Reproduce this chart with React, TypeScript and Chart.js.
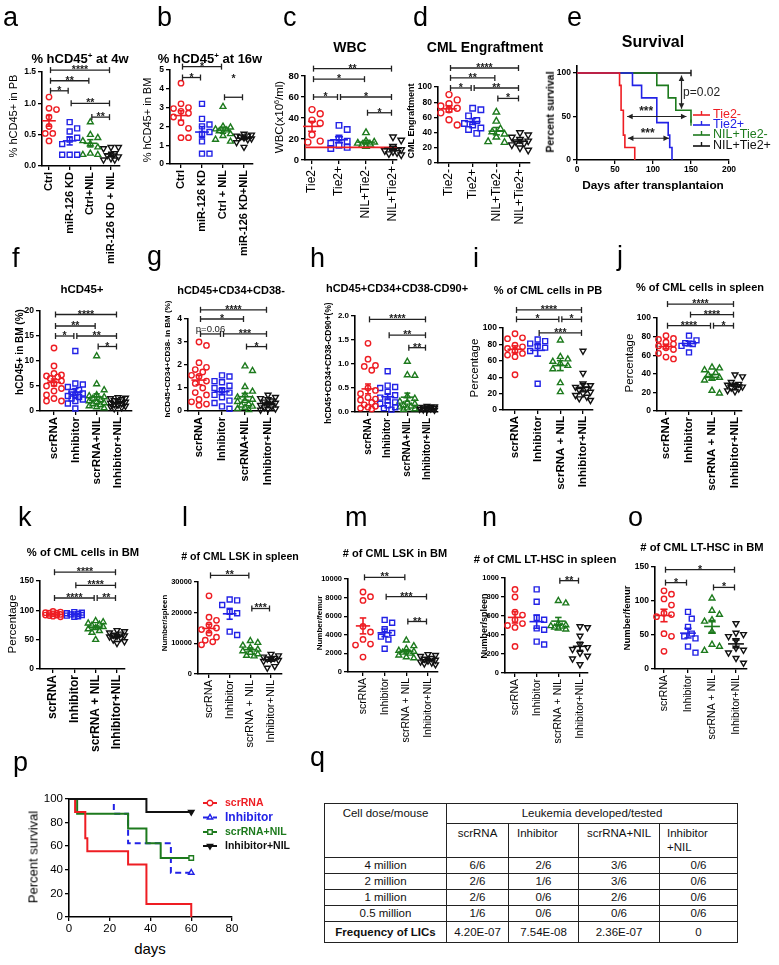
import React, { useEffect, useRef } from 'react';
import { Chart, registerables } from 'chart.js';

Chart.register(...registerables);
const FONT = "'Liberation Sans', Arial, Helvetica, sans-serif";
Chart.defaults.font.family = FONT;
Chart.defaults.color = '#000';

const RED = '#ee1d23';
const BLUE = '#2222e6';
const GREEN = '#1d7a1d';
const BLACK = '#111111';
const GROUP_COLORS = [RED, BLUE, GREEN, BLACK];
const GROUP_STYLES = ['circle', 'rect', 'triangle', 'triangle'];
const GROUP_ROT = [0, 0, 0, 180];

type Bracket = [number, number, number, string, number?];

// ---------------- DATA ----------------
// a
const aCats = ['Ctrl', 'miR-126 KD', 'Ctrl+NIL', 'miR-126 KD + NIL'];
const aCtrl = [1.1, 0.92, 0.9, 0.78, 0.63, 0.52, 0.52, 0.4];
const aKD = [0.7, 0.6, 0.55, 0.45, 0.42, 0.35, 0.18, 0.18, 0.18];
const aNIL = [0.7, 0.5, 0.45, 0.4, 0.35, 0.3, 0.2, 0.18, 0.18];
const aKDNIL = [0.3, 0.3, 0.28, 0.2, 0.17, 0.15, 0.12, 0.1, 0.1];
const aBrackets: Bracket[] = [[0, 3, 1.53, '****'], [0, 2, 1.36, '**'], [0, 1, 1.2, '*'], [1, 3, 1.0, '**'], [2, 3, 0.78, '**']];
// b
const bCats = ['Ctrl', 'miR-126 KD', 'Ctrl + NIL', 'miR-126 KD+NIL'];
const bCtrl = [4.3, 3.2, 3.0, 2.95, 2.8, 2.7, 2.5, 2.2, 1.9, 1.4, 1.4];
const bKD = [3.2, 2.4, 2.1, 2.0, 1.7, 1.6, 1.2, 0.55, 0.55];
const bNIL = [3.05, 2.0, 1.95, 1.85, 1.8, 1.75, 1.6, 1.5, 1.3, 1.2];
const bKDNIL = [1.6, 1.55, 1.5, 1.5, 1.45, 1.4, 1.35, 1.3, 1.15, 0.9];
const bBrackets: Bracket[] = [[0, 2, 5.18, '*'], [0, 1, 4.6, '*'], [2, 3, 3.55, '*', 4.5]];
// c
const cdCats = ['Tie2-', 'Tie2+', 'NIL+Tie2-', 'NIL+Tie2+'];
const cT1 = [48, 44, 38, 35, 24, 18, 17];
const cT2 = [33, 29, 21, 18, 16, 14, 12, 11];
const cN1 = [26, 18, 17, 16, 15, 14, 13];
const cN2 = [22, 19, 13, 10, 9, 8, 7, 6, 5];
const cBrackets: Bracket[] = [[0, 3, 87, '**'], [0, 2, 77, '*'], [0, 1, 60, '*'], [1, 3, 60, '*'], [2, 3, 45, '*']];
const cRefLine = 12;
// d
const dT1 = [90, 83, 78, 75, 72, 70, 66, 57, 50];
const dT2 = [72, 70, 62, 56, 52, 50, 46, 44, 39];
const dN1 = [67, 55, 45, 41, 38, 34, 28, 27];
const dN2 = [40, 37, 34, 31, 29, 28, 26, 24, 20, 17];
const dBrackets: Bracket[] = [[0, 3, 125, '****'], [0, 2, 112, '**'], [0, 1, 98.7, '*'], [1, 3, 98.7, '**'], [2, 3, 85, '*']];
// e
const eRedT = [0, 56, 58, 61, 63, 76];
const eRedS = [100, 85.7, 57.1, 28.6, 14.3, 0];
const eBlueT = [0, 73, 85, 105, 120, 122, 125];
const eBlueS = [100, 85.7, 71.4, 42.9, 28.6, 14.3, 0];
const eGreenT = [0, 105, 120, 130, 150];
const eGreenS = [100, 85.7, 71.4, 57.1, 42.9];
const eBlackT = [0, 150];
const eBlackS = [100, 100];
const eLabels = ['Tie2-', 'Tie2+', 'NIL+Tie2-', 'NIL+Tie2+'];
// f-o categories
const sCats = ['scrRNA', 'Inhibitor', 'scrRNA+NIL', 'Inhibitor+NIL'];
const sCats2 = ['scrRNA', 'Inhibitor', 'scrRNA + NIL', 'Inhibitor+NIL'];
// f
const fScr = [12.6, 9.0, 7.5, 7.2, 7.0, 6.8, 6.5, 6.0, 5.5, 5.0, 4.5, 4.0, 3.2, 2.5, 2.0, 2.0];
const fInh = [12, 5.5, 5.3, 4.8, 4.2, 3.8, 3.5, 3.2, 3.0, 2.8, 2.5, 2.3, 2.0, 1.5, 0.5];
const fScrNil = [11, 5.4, 4.2, 3.2, 3.0, 2.8, 2.5, 2.2, 2.0, 1.8, 1.6, 1.4, 1.2, 1.0, 0.8, 0.6];
const fInhNil = [2.7, 2.6, 2.5, 2.3, 2.1, 2.0, 1.8, 1.6, 1.5, 1.3, 1.2, 1.0, 0.9, 0.7, 0.5];
const fBrackets: Bracket[] = [[0, 3, 19.3, '****'], [0, 2, 17, '**'], [0, 1, 15, '*'], [1, 3, 15, '**'], [2, 3, 12.9, '*']];
// g
const gScr = [3.0, 2.85, 2.1, 1.9, 1.8, 1.7, 1.55, 1.5, 1.3, 1.2, 1.0, 0.8, 0.7, 0.5, 0.4, 0.3, 0.25];
const gInh = [1.55, 1.5, 1.3, 1.25, 1.1, 1.0, 0.9, 0.8, 0.7, 0.6, 0.45, 0.35, 0.2, 0.1];
const gScrNil = [1.95, 1.75, 1.05, 0.85, 0.7, 0.6, 0.5, 0.45, 0.4, 0.3, 0.25, 0.2, 0.15, 0.1, 0.05];
const gInhNil = [0.7, 0.6, 0.55, 0.5, 0.45, 0.4, 0.35, 0.3, 0.25, 0.2, 0.15, 0.1, 0.08, 0.05];
const gBrackets: Bracket[] = [[0, 3, 4.4, '****'], [0, 2, 4.0, '*'], [0, 1, 3.35, 'p=0.06'], [1, 3, 3.35, '***'], [2, 3, 2.8, '*']];
// h
const hScr = [1.43, 1.1, 0.97, 0.95, 0.87, 0.5, 0.45, 0.38, 0.3, 0.27, 0.25, 0.2, 0.15, 0.12, 0.1, 0.08, 0.06];
const hInh = [0.85, 0.55, 0.52, 0.5, 0.42, 0.35, 0.3, 0.24, 0.2, 0.17, 0.14, 0.1, 0.08, 0.05];
const hScrNil = [1.05, 0.77, 0.76, 0.33, 0.28, 0.22, 0.2, 0.17, 0.14, 0.12, 0.1, 0.08, 0.06, 0.05];
const hInhNil = [0.12, 0.11, 0.1, 0.1, 0.09, 0.08, 0.08, 0.07, 0.06, 0.05, 0.05, 0.04];
const hBrackets: Bracket[] = [[0, 3, 1.93, '****'], [1, 3, 1.6, '**'], [2, 3, 1.34, '**']];
// i
const iScr = [93, 88, 87, 79, 77, 75, 72, 69, 67, 65, 43];
const iInh = [86, 84, 81, 78, 76, 72, 32];
const iScrNil = [85, 65, 62, 59, 57, 54, 50, 33, 22];
const iInhNil = [72, 45, 32, 30, 28, 26, 24, 22, 20, 18, 16, 14, 12];
const iBrackets: Bracket[] = [[0, 3, 122, '****'], [0, 2, 110.6, '*'], [2, 3, 110.6, '*'], [1, 3, 94, '***']];
// j
const jScr = [81, 78, 77, 74, 72, 70, 68, 66, 62, 58, 56];
const jInh = [81, 76, 73, 72, 70, 63];
const jScrNil = [47, 46, 44, 41, 39, 36, 35, 33, 22, 19];
const jInhNil = [39, 37, 31, 29, 28, 27, 26, 25, 24, 22, 21];
const jBrackets: Bracket[] = [[0, 3, 115, '****'], [1, 3, 103.6, '****'], [0, 2, 91.7, '****'], [2, 3, 91.7, '*']];
// k
const kScr = [98, 97, 96, 95, 95, 94, 93, 92, 92, 91, 90, 89];
const kInh = [97, 96, 95, 94, 93, 93, 92, 91, 90, 89];
const kScrNil = [82, 80, 78, 76, 74, 72, 70, 68, 65, 62, 50];
const kInhNil = [66, 64, 62, 60, 58, 57, 56, 55, 53, 50, 47, 44];
const kBrackets: Bracket[] = [[0, 3, 165, '****'], [1, 3, 142.7, '****'], [0, 2, 121, '****'], [2, 3, 121, '**']];
// l
const lScr = [25500, 18500, 17500, 16000, 15000, 14500, 13300, 12000, 11000, 10500, 9500];
const lInh = [24300, 24000, 22500, 20300, 19800, 13800, 12700];
const lScrNil = [10800, 10200, 9300, 8600, 8000, 7500, 7000, 6500, 6000, 5800];
const lInhNil = [6500, 6000, 5600, 5200, 5000, 4800, 4500, 4200, 2500, 2000];
const lBrackets: Bracket[] = [[0, 2, 32150, '**'], [2, 3, 21360, '***']];
// m
const mScr = [8600, 8100, 7700, 4900, 4300, 3500, 3000, 2900, 1600];
const mInh = [5600, 5300, 4600, 4200, 3800, 3500, 2500];
const mScrNil = [3400, 2800, 2500, 2300, 2200, 2100, 2000, 1800, 1600, 1500];
const mInhNil = [1900, 1800, 1700, 1500, 1400, 1300, 1200, 1100, 1000, 900, 800];
const mBrackets: Bracket[] = [[0, 2, 10180, '**'], [1, 3, 8100, '***'], [2, 3, 5430, '**']];
// n
const nScr = [880, 800, 640, 610, 560, 520, 500, 480, 280];
const nInh = [880, 750, 580, 560, 470, 455, 330, 300];
const nScrNil = [760, 735, 520, 505, 495, 490, 480, 470, 460];
const nInhNil = [490, 480, 390, 300, 270, 250, 210, 180, 150, 90];
const nBrackets: Bracket[] = [[2, 3, 972, '**']];
// o
const oScr = [115, 110, 103, 94, 82, 80, 77, 52, 48, 26];
const oInh = [84, 74, 62, 52, 48, 45, 33, 24];
const oScrNil = [104, 86, 80, 72, 70, 55, 36, 33, 27];
const oInhNil = [67, 53, 51, 48, 42, 31, 28, 24, 16, 9];
const oBrackets: Bracket[] = [[0, 3, 146, '*'], [0, 1, 127, '*'], [2, 3, 120, '*']];
// p
const pScrT = [0, 3, 8, 9, 29, 38, 60];
const pScrS = [100, 88.9, 66.7, 55.6, 44.4, 11.1, 0];
const pInhT = [0, 22, 29, 50, 60];
const pInhS = [100, 87.5, 62.5, 37.5, 37.5];
const pScrNilT = [0, 4, 29, 38, 45, 60];
const pScrNilS = [100, 87.5, 75, 62.5, 50, 50];
const pInhNilT = [0, 38, 60];
const pInhNilS = [100, 88.9, 88.9];
const pLabels = ['scrRNA', 'Inhibitor', 'scrRNA+NIL', 'Inhibitor+NIL'];
// q
const qDoses = ['4 million', '2 million', '1 million', '0.5 million'];
const qScr = ['6/6', '2/6', '2/6', '1/6'];
const qInh = ['2/6', '1/6', '0/6', '0/6'];
const qScrNil = ['3/6', '3/6', '2/6', '0/6'];
const qInhNil = ['0/6', '0/6', '0/6', '0/6'];
const qFreq = ['4.20E-07', '7.54E-08', '2.36E-07', '0'];

// ---------------- DOT PLOTS ----------------
const PL = 50, PT = 50, PR = 16, PB = 110;

interface DotCfg {
  cats: string[]; groups: number[][]; brackets: Bracket[];
  yMax: number; yStep: number; dec?: number; hline?: number;
  box: { ax: number; ax2: number; yTop: number; yBot: number; c0: number; c3: number };
  tickSize: number; catSize: number; catBold: boolean; r?: number;
}

function swarm(vals: number[], gi: number, ppu: number, ppc: number, r: number) {
  const idx = vals.map((_, i) => i).sort((a, b) => vals[b] - vals[a]);
  const placed: [number, number][] = [];
  const out: any[] = new Array(vals.length);
  const d = 2 * r * 1.2 + 1;
  const lim = ppc * 0.42;
  for (const i of idx) {
    const py = vals[i] * ppu;
    let best = 0, bestScore = -1;
    for (let k = 0; k < 30; k++) {
      const off = (k % 2 ? 1 : -1) * Math.ceil(k / 2) * d * 0.5;
      if (Math.abs(off) > lim) break;
      let minD = Infinity;
      for (const [px, qy] of placed) minD = Math.min(minD, Math.hypot(px - off, qy - py));
      if (minD >= d) { best = off; break; }
      if (minD > bestScore) { bestScore = minD; best = off; }
    }
    placed.push([best, py]);
    out[i] = { x: gi + best / ppc, y: vals[i] };
  }
  return out;
}

function seg(ctx: any, x1: number, y1: number, x2: number, y2: number) {
  ctx.beginPath(); ctx.moveTo(x1, y1); ctx.lineTo(x2, y2); ctx.stroke();
}

const dotPlugin = (c: DotCfg) => ({
  id: 'dotExtras',
  afterDatasetsDraw(chart: any) {
    const ctx = chart.ctx, xs = chart.scales.x, ys = chart.scales.y, ca = chart.chartArea;
    const step = xs.getPixelForValue(1) - xs.getPixelForValue(0);
    ctx.save();
    if (c.hline !== undefined) {
      ctx.strokeStyle = RED; ctx.lineWidth = 1.6;
      const y = ys.getPixelForValue(c.hline);
      seg(ctx, ca.left, y, ca.right, y);
    }
    c.groups.forEach((vals, gi) => {
      const n = vals.length;
      const mean = vals.reduce((s, v) => s + v, 0) / n;
      const sd = Math.sqrt(vals.reduce((s, v) => s + (v - mean) ** 2, 0) / (n - 1));
      const sem = sd / Math.sqrt(n);
      const cx = xs.getPixelForValue(gi);
      const ym = ys.getPixelForValue(mean), y1 = ys.getPixelForValue(mean + sem), y2 = ys.getPixelForValue(Math.max(0, mean - sem));
      ctx.strokeStyle = GROUP_COLORS[gi]; ctx.lineWidth = 1.6;
      seg(ctx, cx - 0.33 * step, ym, cx + 0.33 * step, ym);
      seg(ctx, cx, y1, cx, y2);
      seg(ctx, cx - 0.15 * step, y1, cx + 0.15 * step, y1);
      seg(ctx, cx - 0.15 * step, y2, cx + 0.15 * step, y2);
    });
    for (const [a, b, yv, label, ly] of c.brackets) {
      const x1 = xs.getPixelForValue(a) + 1.5, x2 = xs.getPixelForValue(b) - 1.5, y = ys.getPixelForValue(yv);
      ctx.strokeStyle = '#222'; ctx.lineWidth = 1.3;
      seg(ctx, x1, y, x2, y); seg(ctx, x1, y - 3, x1, y + 3); seg(ctx, x2, y - 3, x2, y + 3);
      ctx.fillStyle = '#222'; ctx.textAlign = 'center'; ctx.textBaseline = 'alphabetic';
      const ty = ly !== undefined ? ys.getPixelForValue(ly) : y;
      if (label.startsWith('p')) {
        ctx.font = `9.5px ${FONT}`;
        ctx.fillText(label, (x1 + x2) / 2, ty - 2);
      } else {
        ctx.font = `bold 10.5px ${FONT}`;
        ctx.fillText(label, (x1 + x2) / 2, ty + 3);
      }
    }
    ctx.restore();
  },
});

function DotChart({ c }: { c: DotCfg }) {
  const ref = useRef<HTMLCanvasElement>(null);
  const { ax, ax2, yTop, yBot, c0, c3 } = c.box;
  const W = ax2 - ax + PL + PR, H = yBot - yTop + PT + PB;
  useEffect(() => {
    const ppu = (yBot - yTop) / c.yMax;
    const ppc = (c3 - c0) / 3;
    const r = c.r ?? 2.7;
    const datasets = c.groups.map((vals, gi) => ({
      data: swarm(vals, gi, ppu, ppc, r),
      pointStyle: GROUP_STYLES[gi],
      pointRotation: GROUP_ROT[gi],
      pointRadius: gi === 0 ? r : gi === 1 ? r * 1.3 : r * 1.25,
      pointBorderWidth: 1.4,
      borderColor: GROUP_COLORS[gi],
      pointBorderColor: GROUP_COLORS[gi],
      backgroundColor: 'rgba(255,255,255,0)',
      pointBackgroundColor: 'rgba(255,255,255,0)',
      clip: false,
    }));
    const dec = c.dec ?? 0;
    const chart = new Chart(ref.current as HTMLCanvasElement, {
      type: 'scatter',
      data: { datasets } as any,
      options: {
        responsive: false, animation: false, events: [],
        layout: { padding: { left: 0, top: PT, right: PR, bottom: 0 } },
        plugins: { legend: { display: false }, tooltip: { enabled: false } },
        scales: {
          x: {
            type: 'linear', bounds: 'data',
            min: -(c0 - ax) / ppc, max: 3 + (ax2 - c3) / ppc,
            afterBuildTicks: (s: any) => { s.ticks = c.cats.map((_, i) => ({ value: i })); },
            afterFit: (s: any) => { s.height = PB; },
            ticks: {
              autoSkip: false, minRotation: 90, maxRotation: 90, padding: 2, color: '#000',
              font: { size: c.catSize, weight: c.catBold ? 'bold' : 'normal' },
              callback: (v: any) => c.cats[Math.round(v)] ?? '',
            },
            grid: { drawOnChartArea: false, drawTicks: true, tickLength: 4, color: '#000', lineWidth: 1.3 },
            border: { color: '#000', width: 1.6 },
          },
          y: {
            type: 'linear', min: 0, max: c.yMax,
            afterFit: (s: any) => { s.width = PL; },
            ticks: {
              stepSize: c.yStep, padding: 2, color: '#000',
              font: { size: c.tickSize, weight: 'bold' },
              callback: (v: any) => Number(v).toFixed(dec),
            },
            grid: { drawOnChartArea: false, drawTicks: true, tickLength: 4, color: '#000', lineWidth: 1.3 },
            border: { color: '#000', width: 1.6 },
          },
        },
      } as any,
      plugins: [dotPlugin(c)],
    });
    return () => chart.destroy();
  }, []);
  return <canvas ref={ref} width={W} height={H} style={{ position: 'absolute', left: ax - PL, top: yTop - PT, width: W, height: H }} />;
}

const dotPanels: DotCfg[] = [
  { cats: aCats, groups: [aCtrl, aKD, aNIL, aKDNIL], brackets: aBrackets, yMax: 1.5, yStep: 0.5, dec: 1,
    box: { ax: 42, ax2: 120, yTop: 72, yBot: 166, c0: 49, c3: 111 }, tickSize: 8.5, catSize: 11, catBold: true },
  { cats: bCats, groups: [bCtrl, bKD, bNIL, bKDNIL], brackets: bBrackets, yMax: 5, yStep: 1,
    box: { ax: 170, ax2: 253, yTop: 70, yBot: 164, c0: 181, c3: 244 }, tickSize: 8.5, catSize: 11, catBold: true },
  { cats: cdCats, groups: [cT1, cT2, cN1, cN2], brackets: cBrackets, yMax: 80, yStep: 20, hline: cRefLine,
    box: { ax: 305, ax2: 397, yTop: 76, yBot: 160, c0: 312, c3: 393 }, tickSize: 9.5, catSize: 12, catBold: false, r: 3 },
  { cats: cdCats, groups: [dT1, dT2, dN1, dN2], brackets: dBrackets, yMax: 100, yStep: 20,
    box: { ax: 438, ax2: 530, yTop: 87, yBot: 163, c0: 449, c3: 520 }, tickSize: 8.5, catSize: 12, catBold: false, r: 3 },
  { cats: sCats, groups: [fScr, fInh, fScrNil, fInhNil], brackets: fBrackets, yMax: 20, yStep: 5,
    box: { ax: 40, ax2: 132, yTop: 311, yBot: 411, c0: 54, c3: 118 }, tickSize: 8.5, catSize: 11.5, catBold: true },
  { cats: sCats, groups: [gScr, gInh, gScrNil, gInhNil], brackets: gBrackets, yMax: 4, yStep: 1,
    box: { ax: 188, ax2: 275, yTop: 319, yBot: 411, c0: 199, c3: 268 }, tickSize: 8.5, catSize: 11, catBold: true },
  { cats: sCats, groups: [hScr, hInh, hScrNil, hInhNil], brackets: hBrackets, yMax: 2, yStep: 0.5, dec: 1,
    box: { ax: 355, ax2: 438, yTop: 316, yBot: 412, c0: 368, c3: 427 }, tickSize: 8, catSize: 10, catBold: true },
  { cats: sCats2, groups: [iScr, iInh, iScrNil, iInhNil], brackets: iBrackets, yMax: 100, yStep: 20,
    box: { ax: 503, ax2: 593, yTop: 328, yBot: 410, c0: 515, c3: 583 }, tickSize: 8.5, catSize: 11.5, catBold: true },
  { cats: sCats2, groups: [jScr, jInh, jScrNil, jInhNil], brackets: jBrackets, yMax: 100, yStep: 20,
    box: { ax: 657, ax2: 742, yTop: 318, yBot: 411, c0: 666, c3: 735 }, tickSize: 8.5, catSize: 11.5, catBold: true },
  { cats: sCats2, groups: [kScr, kInh, kScrNil, kInhNil], brackets: kBrackets, yMax: 150, yStep: 50,
    box: { ax: 40, ax2: 125, yTop: 581, yBot: 669, c0: 53, c3: 117 }, tickSize: 8.5, catSize: 12, catBold: true },
  { cats: sCats2, groups: [lScr, lInh, lScrNil, lInhNil], brackets: lBrackets, yMax: 30000, yStep: 10000,
    box: { ax: 198, ax2: 282, yTop: 582, yBot: 674, c0: 209, c3: 271 }, tickSize: 7.5, catSize: 11, catBold: false },
  { cats: sCats2, groups: [mScr, mInh, mScrNil, mInhNil], brackets: mBrackets, yMax: 10000, yStep: 2000,
    box: { ax: 348, ax2: 438, yTop: 579, yBot: 672, c0: 363, c3: 428 }, tickSize: 7.5, catSize: 10.5, catBold: false },
  { cats: sCats2, groups: [nScr, nInh, nScrNil, nInhNil], brackets: nBrackets, yMax: 1000, yStep: 200,
    box: { ax: 505, ax2: 588, yTop: 578, yBot: 673, c0: 515, c3: 580 }, tickSize: 7.5, catSize: 10.5, catBold: false },
  { cats: sCats2, groups: [oScr, oInh, oScrNil, oInhNil], brackets: oBrackets, yMax: 150, yStep: 50,
    box: { ax: 655, ax2: 747, yTop: 567, yBot: 669, c0: 664, c3: 736 }, tickSize: 8.5, catSize: 10.5, catBold: false },
];

// ---------------- SURVIVAL ----------------
interface KMSeries {
  label: string; color: string; t: number[]; s: number[]; dash?: number[];
  end?: string; endRot?: number; endFill?: boolean; legMarker?: string; legRot?: number; legFill?: boolean; legFont: string;
}
interface KMCfg {
  box: { ax: number; ax2: number; yTop: number; yBot: number };
  pad: { l: number; t: number; r: number; b: number };
  xMax: number; yMax: number; xTicks: number[]; yTicks: number[];
  tickFont: { size: number; weight: string }; lw: number;
  series: KMSeries[]; order: number[];
  legend: { x0: number; x1: number; tx: number; ys: number[] };
  arrows?: number[][]; notes?: { x: number; y: number; text: string; font: string; align: string }[];
}

function marker(ctx: any, kind: string, x: number, y: number, r: number, rot: number, color: string, fill: boolean) {
  ctx.save();
  ctx.translate(x, y); ctx.rotate((rot * Math.PI) / 180);
  ctx.strokeStyle = color; ctx.fillStyle = fill ? color : '#fff'; ctx.lineWidth = 1.4;
  ctx.beginPath();
  if (kind === 'circle') ctx.arc(0, 0, r, 0, Math.PI * 2);
  else if (kind === 'rect') ctx.rect(-r * 0.8, -r * 0.8, r * 1.6, r * 1.6);
  else if (kind === 'triangle') {
    ctx.moveTo(0, -r * 1.1); ctx.lineTo(r * 0.95, r * 0.55); ctx.lineTo(-r * 0.95, r * 0.55); ctx.closePath();
  } else if (kind === 'tick') { ctx.moveTo(0, 0); ctx.lineTo(0, -4); ctx.stroke(); ctx.restore(); return; }
  ctx.fill(); ctx.stroke();
  ctx.restore();
}

function arrowHead(ctx: any, x: number, y: number, ang: number) {
  const L = 5.5, w = 2.8;
  ctx.beginPath();
  ctx.moveTo(x, y);
  ctx.lineTo(x - L * Math.cos(ang) + w * Math.sin(ang), y - L * Math.sin(ang) - w * Math.cos(ang));
  ctx.lineTo(x - L * Math.cos(ang) - w * Math.sin(ang), y - L * Math.sin(ang) + w * Math.cos(ang));
  ctx.closePath(); ctx.fill();
}

const kmPlugin = (c: KMCfg, left: number, top: number) => ({
  id: 'kmExtras',
  afterDraw(chart: any) {
    const ctx = chart.ctx, xs = chart.scales.x, ys = chart.scales.y;
    ctx.save();
    ctx.strokeStyle = '#222'; ctx.fillStyle = '#222'; ctx.lineWidth = 1.2;
    for (const [ax1, ay1, ax2, ay2] of c.arrows ?? []) {
      const x1 = xs.getPixelForValue(ax1), y1 = ys.getPixelForValue(ay1), x2 = xs.getPixelForValue(ax2), y2 = ys.getPixelForValue(ay2);
      seg(ctx, x1, y1, x2, y2);
      const ang = Math.atan2(y2 - y1, x2 - x1);
      arrowHead(ctx, x2, y2, ang); arrowHead(ctx, x1, y1, ang + Math.PI);
    }
    for (const n of c.notes ?? []) {
      ctx.font = n.font; ctx.textAlign = n.align; ctx.textBaseline = 'middle';
      ctx.fillText(n.text, xs.getPixelForValue(n.x), ys.getPixelForValue(n.y));
    }
    const L = c.legend;
    c.series.forEach((s, i) => {
      const y = L.ys[i] - top;
      ctx.strokeStyle = s.color; ctx.lineWidth = c.lw; ctx.setLineDash(s.dash ?? []);
      seg(ctx, L.x0 - left, y, L.x1 - left, y);
      ctx.setLineDash([]);
      if (s.legMarker) marker(ctx, s.legMarker, (L.x0 + L.x1) / 2 - left, y, 2.8, s.legRot ?? 0, s.color, !!s.legFill);
      ctx.fillStyle = s.color; ctx.font = s.legFont; ctx.textAlign = 'left'; ctx.textBaseline = 'middle';
      ctx.fillText(s.label, L.tx - left, y);
    });
    ctx.restore();
  },
});

function KMChart({ c }: { c: KMCfg }) {
  const ref = useRef<HTMLCanvasElement>(null);
  const { ax, ax2, yTop, yBot } = c.box;
  const W = ax2 - ax + c.pad.l + c.pad.r, H = yBot - yTop + c.pad.t + c.pad.b;
  const left = ax - c.pad.l, top = yTop - c.pad.t;
  useEffect(() => {
    const datasets = c.order.map((si) => {
      const s = c.series[si];
      const n = s.t.length;
      return {
        data: s.t.map((x, i) => ({ x, y: s.s[i] })),
        stepped: true,
        borderColor: s.color, borderWidth: c.lw, borderDash: s.dash ?? [],
        pointRadius: s.t.map((_, i) => (i === n - 1 && s.end ? 3.2 : 0)),
        pointStyle: s.end === 'tick' ? 'line' : s.end ?? 'circle',
        pointRotation: s.end === 'tick' ? 90 : s.endRot ?? 0,
        pointBorderColor: s.color, pointBorderWidth: 1.4,
        pointBackgroundColor: s.endFill ? s.color : '#fff',
        fill: false, clip: false,
      };
    });
    const axisCommon = {
      grid: { drawOnChartArea: false, drawTicks: true, tickLength: 4, color: '#000', lineWidth: 1.3 },
      border: { color: '#000', width: 1.6 },
    };
    const chart = new Chart(ref.current as HTMLCanvasElement, {
      type: 'line',
      data: { datasets } as any,
      options: {
        responsive: false, animation: false, events: [],
        layout: { padding: { left: 0, top: c.pad.t, right: c.pad.r, bottom: 0 } },
        plugins: { legend: { display: false }, tooltip: { enabled: false } },
        scales: {
          x: {
            type: 'linear', min: 0, max: c.xMax, bounds: 'data',
            afterBuildTicks: (s: any) => { s.ticks = c.xTicks.map((v) => ({ value: v })); },
            afterFit: (s: any) => { s.height = c.pad.b; },
            ticks: { maxRotation: 0, autoSkip: false, padding: 1, color: '#000', font: c.tickFont },
            ...axisCommon,
          },
          y: {
            type: 'linear', min: 0, max: c.yMax, bounds: 'data',
            afterBuildTicks: (s: any) => { s.ticks = c.yTicks.map((v) => ({ value: v })); },
            afterFit: (s: any) => { s.width = c.pad.l; },
            ticks: { padding: 2, color: '#000', font: c.tickFont },
            ...axisCommon,
          },
        },
      } as any,
      plugins: [kmPlugin(c, left, top)],
    });
    return () => chart.destroy();
  }, []);
  return <canvas ref={ref} width={W} height={H} style={{ position: 'absolute', left, top, width: W, height: H }} />;
}

const eCfg: KMCfg = {
  box: { ax: 577, ax2: 729, yTop: 66, yBot: 160 },
  pad: { l: 36, t: 8, r: 50, b: 22 },
  xMax: 200, yMax: 108, xTicks: [0, 50, 100, 150, 200], yTicks: [0, 50, 100],
  tickFont: { size: 8.5, weight: 'bold' }, lw: 1.6,
  series: [
    { label: eLabels[0], color: RED, t: eRedT, s: eRedS, legMarker: 'tick', legFont: `12.5px ${FONT}` },
    { label: eLabels[1], color: BLUE, t: eBlueT, s: eBlueS, legMarker: 'tick', legFont: `12.5px ${FONT}` },
    { label: eLabels[2], color: GREEN, t: eGreenT, s: eGreenS, end: 'tick', legMarker: 'tick', legFont: `12.5px ${FONT}` },
    { label: eLabels[3], color: BLACK, t: eBlackT, s: eBlackS, end: 'tick', legMarker: 'tick', legFont: `12.5px ${FONT}` },
  ],
  order: [0, 1, 2, 3],
  legend: { x0: 693, x1: 710, tx: 713, ys: [115, 125, 135, 146] },
  arrows: [[66, 50, 144, 50], [67, 25, 121, 25], [137.5, 97, 137.5, 59]],
  notes: [
    { x: 91, y: 56, text: '***', font: `bold 12px ${FONT}`, align: 'center' },
    { x: 93, y: 30, text: '***', font: `bold 12px ${FONT}`, align: 'center' },
    { x: 139.5, y: 77, text: 'p=0.02', font: `12px ${FONT}`, align: 'left' },
  ],
};

const pCfg: KMCfg = {
  box: { ax: 69, ax2: 232, yTop: 798, yBot: 917 },
  pad: { l: 34, t: 8, r: 80, b: 22 },
  xMax: 80, yMax: 100, xTicks: [0, 20, 40, 60, 80], yTicks: [0, 20, 40, 60, 80, 100],
  tickFont: { size: 11.5, weight: 'normal' }, lw: 2,
  series: [
    { label: pLabels[0], color: RED, t: pScrT, s: pScrS, legMarker: 'circle', legFont: `bold 10.5px ${FONT}` },
    { label: pLabels[1], color: BLUE, t: pInhT, s: pInhS, dash: [6, 4], end: 'triangle', legMarker: 'triangle', legFont: `bold 12px ${FONT}` },
    { label: pLabels[2], color: GREEN, t: pScrNilT, s: pScrNilS, end: 'rect', legMarker: 'rect', legFont: `bold 10.5px ${FONT}` },
    { label: pLabels[3], color: BLACK, t: pInhNilT, s: pInhNilS, end: 'triangle', endRot: 180, endFill: true, legMarker: 'triangle', legRot: 180, legFill: true, legFont: `bold 10.5px ${FONT}` },
  ],
  order: [3, 0, 2, 1],
  legend: { x0: 203, x1: 217, tx: 225, ys: [803, 817.5, 832, 846] },
};

// ---------------- HTML TEXT ----------------
const Txt = ({ x, y, s, b, rot, children }: any) => (
  <div style={{
    position: 'absolute', left: x, top: y,
    transform: `translate(-50%,-50%)${rot ? ' rotate(-90deg)' : ''}`,
    fontSize: s, fontWeight: b ? 700 : 400, lineHeight: 1, whiteSpace: 'nowrap', color: '#000',
  }}>{children}</div>
);
const Letter = ({ x, base, ch }: any) => (
  <div style={{ position: 'absolute', left: x, top: base - 23, fontSize: 27, lineHeight: 1, color: '#000' }}>{ch}</div>
);
const Sup = ({ children }: any) => <span style={{ fontSize: '0.62em', verticalAlign: '0.55em' }}>{children}</span>;

const letters: [string, number, number][] = [
  ['a', 3, 27], ['b', 157, 27], ['c', 283, 27], ['d', 413, 27], ['e', 567, 27],
  ['f', 12, 268], ['g', 147, 266], ['h', 310, 268], ['i', 473, 268], ['j', 617, 266],
  ['k', 18, 527], ['l', 182, 527], ['m', 345, 527], ['n', 482, 527], ['o', 628, 527],
  ['p', 13, 772], ['q', 310, 767],
];

const cell: React.CSSProperties = { border: '1.5px solid #222', padding: 0, textAlign: 'center', verticalAlign: 'middle' };

function Table() {
  const rows = qDoses.map((d, i) => [d, qScr[i], qInh[i], qScrNil[i], qInhNil[i]]);
  return (
    <table style={{ position: 'absolute', left: 324, top: 803, width: 413, borderCollapse: 'collapse', tableLayout: 'fixed', fontSize: 11.5, lineHeight: 1.25, color: '#111' }}>
      <colgroup>
        <col style={{ width: 122 }} /><col style={{ width: 62 }} /><col style={{ width: 70 }} /><col style={{ width: 81 }} /><col style={{ width: 78 }} />
      </colgroup>
      <tbody>
        <tr style={{ height: 20 }}>
          <td rowSpan={2} style={{ ...cell, verticalAlign: 'top', paddingTop: 2 }}>Cell dose/mouse</td>
          <td colSpan={4} style={cell}>Leukemia developed/tested</td>
        </tr>
        <tr style={{ height: 34 }}>
          <td style={{ ...cell, verticalAlign: 'top', paddingTop: 2 }}>scrRNA</td>
          <td style={{ ...cell, verticalAlign: 'top', paddingTop: 2, textAlign: 'left', paddingLeft: 8 }}>Inhibitor</td>
          <td style={{ ...cell, verticalAlign: 'top', paddingTop: 2 }}>scrRNA+NIL</td>
          <td style={{ ...cell, verticalAlign: 'top', paddingTop: 2, textAlign: 'left', paddingLeft: 7 }}>Inhibitor<br />+NIL</td>
        </tr>
        {rows.map((r, i) => (
          <tr key={i} style={{ height: 16 }}>
            {r.map((v, j) => <td key={j} style={cell}>{v}</td>)}
          </tr>
        ))}
        <tr style={{ height: 21 }}>
          <td style={{ ...cell, fontWeight: 700 }}>Frequency of LICs</td>
          {qFreq.map((v, j) => <td key={j} style={cell}>{v}</td>)}
        </tr>
      </tbody>
    </table>
  );
}

export default function App() {
  return (
    <div style={{ position: 'absolute', left: 0, top: 0, width: 779, height: 965, background: '#fff', overflow: 'hidden', fontFamily: FONT }}>
      {dotPanels.map((c, i) => <DotChart key={i} c={c} />)}
      <KMChart c={eCfg} />
      <KMChart c={pCfg} />
      <Table />
      {letters.map(([ch, x, b]) => <Letter key={ch} ch={ch} x={x} base={b} />)}
      {/* titles */}
      <Txt x={80} y={58} s={13} b>% hCD45<Sup>+</Sup> at 4w</Txt>
      <Txt x={210} y={58} s={13} b>% hCD45<Sup>+</Sup> at 16w</Txt>
      <Txt x={350} y={47} s={14} b>WBC</Txt>
      <Txt x={485} y={47} s={14} b>CML Engraftment</Txt>
      <Txt x={653} y={42} s={16} b>Survival</Txt>
      <Txt x={82} y={290} s={11.5} b>hCD45+</Txt>
      <Txt x={231} y={290} s={11} b>hCD45+CD34+CD38-</Txt>
      <Txt x={397} y={288} s={11} b>hCD45+CD34+CD38-CD90+</Txt>
      <Txt x={548} y={290} s={11} b>% of CML cells in PB</Txt>
      <Txt x={700} y={287} s={11} b>% of CML cells in spleen</Txt>
      <Txt x={83} y={553} s={11.2} b>% of CML cells in BM</Txt>
      <Txt x={240} y={556} s={10.6} b># of CML LSK in spleen</Txt>
      <Txt x={395} y={553} s={11} b># of CML LSK in BM</Txt>
      <Txt x={545} y={560} s={11.3} b># of CML LT-HSC in spleen</Txt>
      <Txt x={702} y={548} s={11.2} b># of CML LT-HSC in BM</Txt>
      {/* axis titles */}
      <Txt x={13} y={116} s={11} rot>% hCD45+ in PB</Txt>
      <Txt x={147} y={120} s={11} rot>% hCD45+ in BM</Txt>
      <Txt x={280} y={117} s={11.5} rot>WBC(x10<Sup>6</Sup>/ml)</Txt>
      <Txt x={411} y={121} s={9} b rot>CML Engraftment</Txt>
      <Txt x={550} y={112} s={10.5} b rot>Percent survival</Txt>
      <Txt x={653} y={186} s={11.8} b>Days after transplantaion</Txt>
      <Txt x={20} y={352} s={10} b rot>hCD45+ in BM (%)</Txt>
      <Txt x={168} y={359} s={8} b rot>hCD45+CD34+CD38- in BM (%)</Txt>
      <Txt x={328} y={363} s={8.4} b rot>hCD45+CD34+CD38-CD90+(%)</Txt>
      <Txt x={475} y={368} s={11.5} rot>Percentage</Txt>
      <Txt x={630} y={363} s={11.5} rot>Percentage</Txt>
      <Txt x={13} y={624} s={11.5} rot>Percentage</Txt>
      <Txt x={165} y={623} s={7.8} b rot>Number/spleen</Txt>
      <Txt x={320} y={623} s={8} b rot>Number/femur</Txt>
      <Txt x={484} y={626} s={9} b rot>Number/spleen</Txt>
      <Txt x={627} y={618} s={9.5} b rot>Number/femur</Txt>
      <Txt x={33} y={857} s={13} rot>Percent survival</Txt>
      <Txt x={150} y={948} s={15}>days</Txt>
    </div>
  );
}
